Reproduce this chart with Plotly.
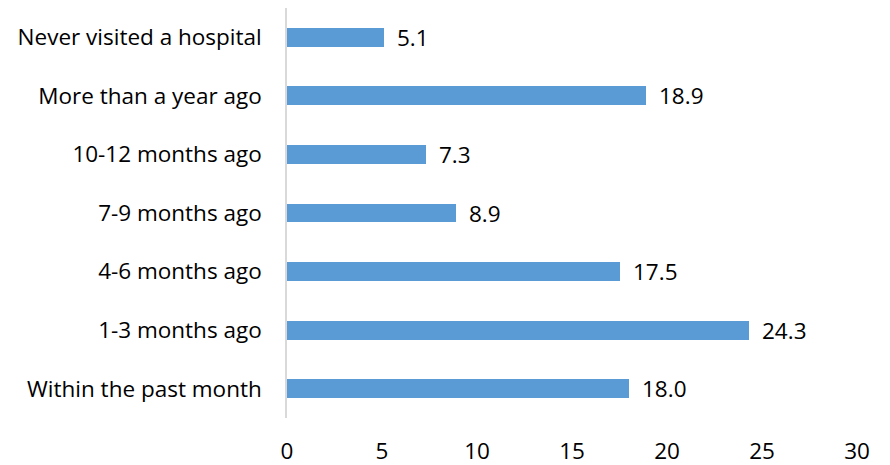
import plotly.graph_objects as go

categories = ["Within the past month", "1-3 months ago", "4-6 months ago",
              "7-9 months ago", "10-12 months ago", "More than a year ago",
              "Never visited a hospital"]
values = [18.0, 24.3, 17.5, 8.9, 7.3, 18.9, 5.1]
value_labels = ["18.0", "24.3", "17.5", "8.9", "7.3", "18.9", "5.1"]

FONT = "Open Sans"
FS = 22.5

fig = go.Figure(go.Bar(
    x=values, y=categories, orientation="h",
    marker=dict(color="#5B9BD5", line=dict(width=0)),
    width=0.32,
))

for v, c, t in zip(values, categories, value_labels):
    fig.add_annotation(x=v, y=c, text=t, showarrow=False, xanchor="left",
                       xshift=11, font=dict(size=FS, color="#000000", family=FONT))

fig.update_layout(
    width=890, height=465,
    margin=dict(l=287, r=33, t=8, b=47, autoexpand=False),
    plot_bgcolor="white", paper_bgcolor="white",
    showlegend=False,
    font=dict(family=FONT, size=FS, color="#000000"),
    bargap=0,
)
fig.update_xaxes(range=[0, 30], dtick=5, showgrid=False, zeroline=False,
                 showline=False, ticks="outside", ticklen=13, tickcolor="rgba(0,0,0,0)",
                 tickfont=dict(size=FS, family=FONT), automargin=False)
fig.update_yaxes(showgrid=False, showline=True, linecolor="#D9D9D9", linewidth=1.5,
                 ticks="outside", ticklen=19, tickcolor="rgba(0,0,0,0)",
                 tickfont=dict(size=FS, family=FONT), range=[-0.5, 6.5], automargin=False)

fig.write_html("out.html", config={"displayModeBar": False},
               post_script="document.body.style.margin='0';document.body.style.padding='0';")
